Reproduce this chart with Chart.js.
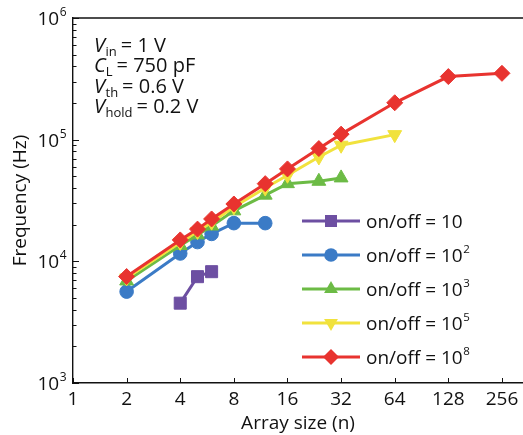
<!DOCTYPE html>
<html>
<head>
<meta charset="utf-8">
<script src="https://cdn.jsdelivr.net/npm/chart.js@4.4.1/dist/chart.umd.min.js"></script>
<style>
  html, body { margin: 0; padding: 0; background: #fff; }
  #wrap { width: 523px; height: 435px; }
</style>
</head>
<body>
<div id="wrap"><canvas id="freqChart" width="523" height="435"></canvas></div>
<script>
/* ============================================================
   DATA
============================================================ */
const arrayTicks = [1, 2, 4, 8, 16, 32, 64, 128, 256];
const freqTicks  = [1e3, 1e4, 1e5, 1e6];

const sizes10 = [4, 5, 6];
const freq10  = [4530, 7480, 8220];

const sizes1e2 = [2, 4, 5, 6, 8, 12];
const freq1e2  = [5640, 11600, 14400, 16800, 20600, 20600];

const sizes1e3 = [2, 4, 5, 6, 8, 12, 16, 24, 32];
const freq1e3  = [6900, 13500, 16500, 19500, 26000, 35000, 43500, 45500, 48500];

const sizes1e5 = [2, 4, 5, 6, 8, 12, 16, 24, 32, 64];
const freq1e5  = [7300, 14300, 17600, 21000, 28000, 40000, 51000, 72000, 90000, 110000];

const sizes1e8 = [2, 4, 5, 6, 8, 12, 16, 24, 32, 64, 128, 256];
const freq1e8  = [7500, 15000, 18400, 22300, 29600, 43500, 57500, 84500, 111000, 201000, 330000, 351000];

const ratioExp = ['', '2', '3', '5', '8'];

/* ============================================================
   STYLE
============================================================ */
const FONT = '"Open Sans", "DejaVu Sans", sans-serif';
const INK  = '#111';

const series = [
  { x: sizes10,  y: freq10,  color: '#6d4fa2', style: 'rect',     radius: 8.5, rotation: 0 },
  { x: sizes1e2, y: freq1e2, color: '#3b7bc6', style: 'circle',   radius: 6.8, rotation: 0 },
  { x: sizes1e3, y: freq1e3, color: '#6cbb45', style: 'triangle', radius: 8,   rotation: 0 },
  { x: sizes1e5, y: freq1e5, color: '#f1e23d', style: 'triangle', radius: 8,   rotation: 180 },
  { x: sizes1e8, y: freq1e8, color: '#e8332f', style: 'rectRot',  radius: 8,   rotation: 0 }
];

/* dataset 0 is painted last, so put the 10^8 curve first */
const datasets = series.slice().reverse().map(s => ({
  data: s.x.map((v, i) => ({ x: v, y: s.y[i] })),
  borderColor: s.color,
  backgroundColor: s.color,
  borderWidth: 3,
  pointStyle: s.style,
  pointRadius: s.radius,
  pointRotation: s.rotation,
  pointBackgroundColor: s.color,
  pointBorderColor: s.color,
  pointBorderWidth: 1,
  tension: 0
}));

/* ============================================================
   DECORATION PLUGIN  (frame, inward ticks, labels, legend)
============================================================ */
function drawRuns(ctx, x, baseY, runs) {
  runs.forEach(r => {
    ctx.font = (r.italic ? 'italic ' : '') + r.size + 'px ' + FONT;
    ctx.fillText(r.t, x, baseY + (r.dy || 0));
    x += ctx.measureText(r.t).width + (r.gap || 0);
  });
  return x;
}

const decor = {
  id: 'decor',
  beforeDatasetsDraw(chart) {
    const { ctx, chartArea: a, scales: { x, y } } = chart;
    ctx.save();
    ctx.strokeStyle = INK;
    ctx.lineWidth = 1.4;
    ctx.beginPath();
    ctx.moveTo(a.left, a.top);
    ctx.lineTo(a.right, a.top);
    ctx.stroke();

    ctx.lineWidth = 1;
    ctx.beginPath();
    arrayTicks.forEach(v => {
      const px = Math.round(x.getPixelForValue(v)) + 0.5;
      ctx.moveTo(px, a.bottom);
      ctx.lineTo(px, a.bottom - 5);
    });
    for (let d = 1e3; d < 1e6; d *= 10) {
      for (let m = 2; m <= 9; m++) {
        const py = Math.round(y.getPixelForValue(d * m)) + 0.5;
        ctx.moveTo(a.left, py);
        ctx.lineTo(a.left + 3.5, py);
      }
    }
    freqTicks.forEach(v => {
      const py = Math.round(y.getPixelForValue(v)) + 0.5;
      ctx.moveTo(a.left, py);
      ctx.lineTo(a.left + 6, py);
    });
    ctx.stroke();
    ctx.restore();
  },
  afterDraw(chart) {
    const { ctx, chartArea: a, scales: { y } } = chart;
    ctx.save();
    ctx.fillStyle = INK;
    ctx.textBaseline = 'alphabetic';
    ctx.textAlign = 'left';

    /* y tick labels: 10^n */
    freqTicks.forEach(v => {
      const py = y.getPixelForValue(v);
      const exp = String(Math.round(Math.log10(v)));
      ctx.font = '12px ' + FONT;
      const we = ctx.measureText(exp).width;
      ctx.font = '19px ' + FONT;
      const wb = ctx.measureText('10').width;
      const x0 = a.left - 7 - we - wb;
      ctx.fillText('10', x0, py + 7);
      ctx.font = '12px ' + FONT;
      ctx.fillText(exp, x0 + wb + 0.5, py - 2);
    });

    /* circuit parameters */
    const notes = [
      [{ t: 'V', size: 20, italic: true, gap: 0.5 }, { t: 'in', size: 13, dy: 4, gap: 4 }, { t: '= 1 V', size: 20 }],
      [{ t: 'C', size: 20, italic: true, gap: 0 },   { t: 'L', size: 13, dy: 4, gap: 4 },  { t: '= 750 pF', size: 20 }],
      [{ t: 'V', size: 20, italic: true, gap: 0.5 }, { t: 'th', size: 13, dy: 4, gap: 4 }, { t: '= 0.6 V', size: 20 }],
      [{ t: 'V', size: 20, italic: true, gap: 0.5 }, { t: 'hold', size: 13, dy: 4, gap: 4 }, { t: '= 0.2 V', size: 20 }]
    ];
    notes.forEach((runs, i) => drawRuns(ctx, 94, 51.5 + i * 20.6, runs));

    /* legend */
    series.forEach((s, i) => {
      const ry = 221 + i * 34;
      ctx.strokeStyle = s.color;
      ctx.lineWidth = 3;
      ctx.beginPath();
      ctx.moveTo(302, ry);
      ctx.lineTo(360, ry);
      ctx.stroke();
      ctx.fillStyle = s.color;
      Chart.helpers.drawPoint(ctx, {
        pointStyle: s.style, radius: s.radius, rotation: s.rotation, borderWidth: 0
      }, 331, ry);
      ctx.fillStyle = INK;
      drawRuns(ctx, 366, ry + 7, [
        { t: 'on/off = 10', size: 19, gap: 0.5 },
        { t: ratioExp[i], size: 11.5, dy: -9 }
      ]);
    });
    ctx.restore();
  }
};

/* ============================================================
   CHART
============================================================ */
new Chart(document.getElementById('freqChart'), {
  type: 'line',
  data: { datasets },
  plugins: [decor],
  options: {
    responsive: false,
    animation: false,
    layout: { autoPadding: false, padding: { top: 18, left: 0, right: 0, bottom: 0 } },
    plugins: { legend: { display: false }, tooltip: { enabled: false } },
    scales: {
      x: {
        type: 'logarithmic',
        min: 1,
        max: 336,
        afterBuildTicks: s => { s.ticks = arrayTicks.map(v => ({ value: v })); },
        afterFit: s => { s.height = 52; s.paddingLeft = 0; s.paddingRight = 0; },
        ticks: {
          autoSkip: false,
          maxRotation: 0,
          padding: 5,
          color: INK,
          font: { family: FONT, size: 19 },
          callback: v => String(v)
        },
        grid: { display: false, drawTicks: false },
        border: { display: true, color: INK, width: 1.4 },
        title: {
          display: true,
          text: 'Array size (n)',
          color: INK,
          font: { family: FONT, size: 19 },
          padding: { top: 0, bottom: 0 }
        }
      },
      y: {
        type: 'logarithmic',
        min: 1e3,
        max: 1e6,
        afterFit: s => { s.width = 73; s.paddingTop = 0; s.paddingBottom = 0; },
        ticks: { display: false },
        grid: { display: false, drawTicks: false },
        border: { display: true, color: INK, width: 1.4 },
        title: {
          display: true,
          text: 'Frequency (Hz)',
          color: INK,
          font: { family: FONT, size: 19 },
          padding: { top: 9, bottom: 0 }
        }
      }
    }
  }
});
</script>
</body>
</html>
